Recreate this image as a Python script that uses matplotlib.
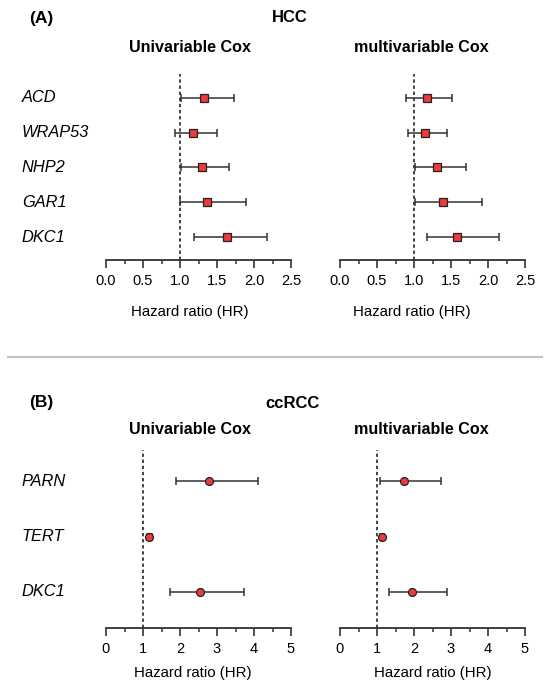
import matplotlib
matplotlib.use("Agg")
import matplotlib.pyplot as plt
from matplotlib.ticker import MultipleLocator

plt.rcParams.update({"font.family": ["Liberation Sans", "DejaVu Sans"], "font.size": 10})

# ---- data ----
hcc_genes = ["ACD", "WRAP53", "NHP2", "GAR1", "DKC1"]
hcc_uni_hr = [1.32, 1.18, 1.30, 1.37, 1.63]
hcc_uni_lo = [1.01, 0.93, 1.01, 1.00, 1.19]
hcc_uni_hi = [1.73, 1.50, 1.66, 1.89, 2.18]
hcc_multi_hr = [1.17, 1.15, 1.31, 1.39, 1.58]
hcc_multi_lo = [0.89, 0.92, 1.01, 1.01, 1.18]
hcc_multi_hi = [1.52, 1.45, 1.70, 1.92, 2.15]

rcc_genes = ["PARN", "TERT", "DKC1"]
rcc_uni_hr = [2.79, 1.17, 2.53]
rcc_uni_lo = [1.88, 1.10, 1.73]
rcc_uni_hi = [4.12, 1.24, 3.73]
rcc_multi_hr = [1.72, 1.14, 1.94]
rcc_multi_lo = [1.09, 1.08, 1.32]
rcc_multi_hi = [2.73, 1.20, 2.88]

W, H = 550, 695
fig = plt.figure(figsize=(W / 100, H / 100), dpi=100)

RED = "#ee3a3a"
EDGE = "#222222"


def px_axes(x0, x1, ytop, ybot):
    return fig.add_axes([x0 / W, 1 - ybot / H, (x1 - x0) / W, (ybot - ytop) / H])


def forest(ax, hr, lo, hi, marker, ms, xmax, major, minor, ylim, fmt):
    y = list(range(len(hr)))
    err = [[h - l for h, l in zip(hr, lo)], [u - h for h, u in zip(hr, hi)]]
    ax.errorbar(hr, y, xerr=err, fmt="none", ecolor="#333333", elinewidth=1.1,
                capsize=2.6, capthick=1.1, zorder=2)
    ax.plot(hr, y, linestyle="none", marker=marker, ms=ms, mfc=RED,
            mec=EDGE, mew=0.9, zorder=3)
    ax.axvline(1, color="#111111", lw=1.1, ls=(0, (2.2, 1.8)), zorder=1)
    ax.set_xlim(0, xmax)
    ax.set_ylim(*ylim)
    for s in ("top", "right", "left"):
        ax.spines[s].set_visible(False)
    ax.spines["bottom"].set_linewidth(1.3)
    ax.spines["bottom"].set_color("#333333")
    ax.set_yticks([])
    ax.xaxis.set_major_locator(MultipleLocator(major))
    ax.xaxis.set_minor_locator(MultipleLocator(minor))
    ax.xaxis.set_major_formatter(fmt)
    ax.tick_params(axis="x", which="major", length=6, width=1.2, pad=4,
                   labelsize=10.5, color="#333333")
    ax.tick_params(axis="x", which="minor", length=3, width=1.1, color="#333333")


# ---- panel A: HCC ----
ylimA = (4.66, -0.68)
axA1 = px_axes(106, 291, 74, 260)
axA2 = px_axes(340, 525, 74, 260)
forest(axA1, hcc_uni_hr, hcc_uni_lo, hcc_uni_hi, "s", 6.4, 2.5, 0.5, 0.25, ylimA, "{x:.1f}")
forest(axA2, hcc_multi_hr, hcc_multi_lo, hcc_multi_hi, "s", 6.4, 2.5, 0.5, 0.25, ylimA, "{x:.1f}")

# ---- panel B: ccRCC ----
ylimB = (2.65, -0.56)
axB1 = px_axes(106, 291, 450, 628)
axB2 = px_axes(340, 525, 450, 628)
forest(axB1, rcc_uni_hr, rcc_uni_lo, rcc_uni_hi, "o", 5.7, 5, 1, 0.5, ylimB, "{x:.0f}")
forest(axB2, rcc_multi_hr, rcc_multi_lo, rcc_multi_hi, "o", 5.7, 5, 1, 0.5, ylimB, "{x:.0f}")

# gene labels on the left
for ax, genes in ((axA1, hcc_genes), (axB1, rcc_genes)):
    for i, g in enumerate(genes):
        ax.annotate(g, xy=(0, i), xycoords=("axes fraction", "data"),
                    xytext=(22 / W, 0), textcoords=("figure fraction", "offset points"),
                    ha="left", va="center", fontsize=11.8, style="italic")


def ftext(x, y, s, **kw):
    fig.text(x / W, 1 - y / H, s, ha="center", va="center", **kw)


ftext(41, 18, "(A)", fontsize=12.5, fontweight="bold")
ftext(290, 18, "HCC", fontsize=12, fontweight="bold")
ftext(190, 48, "Univariable Cox", fontsize=11.6, fontweight="bold")
ftext(421, 48, "multivariable Cox", fontsize=11.6, fontweight="bold")
ftext(190, 312, "Hazard ratio (HR)", fontsize=10.8)
ftext(412, 312, "Hazard ratio (HR)", fontsize=10.8)

ftext(41, 403, "(B)", fontsize=12.5, fontweight="bold")
ftext(292, 403, "ccRCC", fontsize=12, fontweight="bold")
ftext(190, 429, "Univariable Cox", fontsize=11.6, fontweight="bold")
ftext(421, 429, "multivariable Cox", fontsize=11.6, fontweight="bold")
ftext(193, 673, "Hazard ratio (HR)", fontsize=10.8)
ftext(433, 673, "Hazard ratio (HR)", fontsize=10.8)

# grey separator between the panels
fig.add_artist(plt.Line2D([8 / W, 542 / W], [1 - 357 / H, 1 - 357 / H],
                          color="#c4c4c4", lw=1.6))

fig.savefig("out.png", dpi=100)
